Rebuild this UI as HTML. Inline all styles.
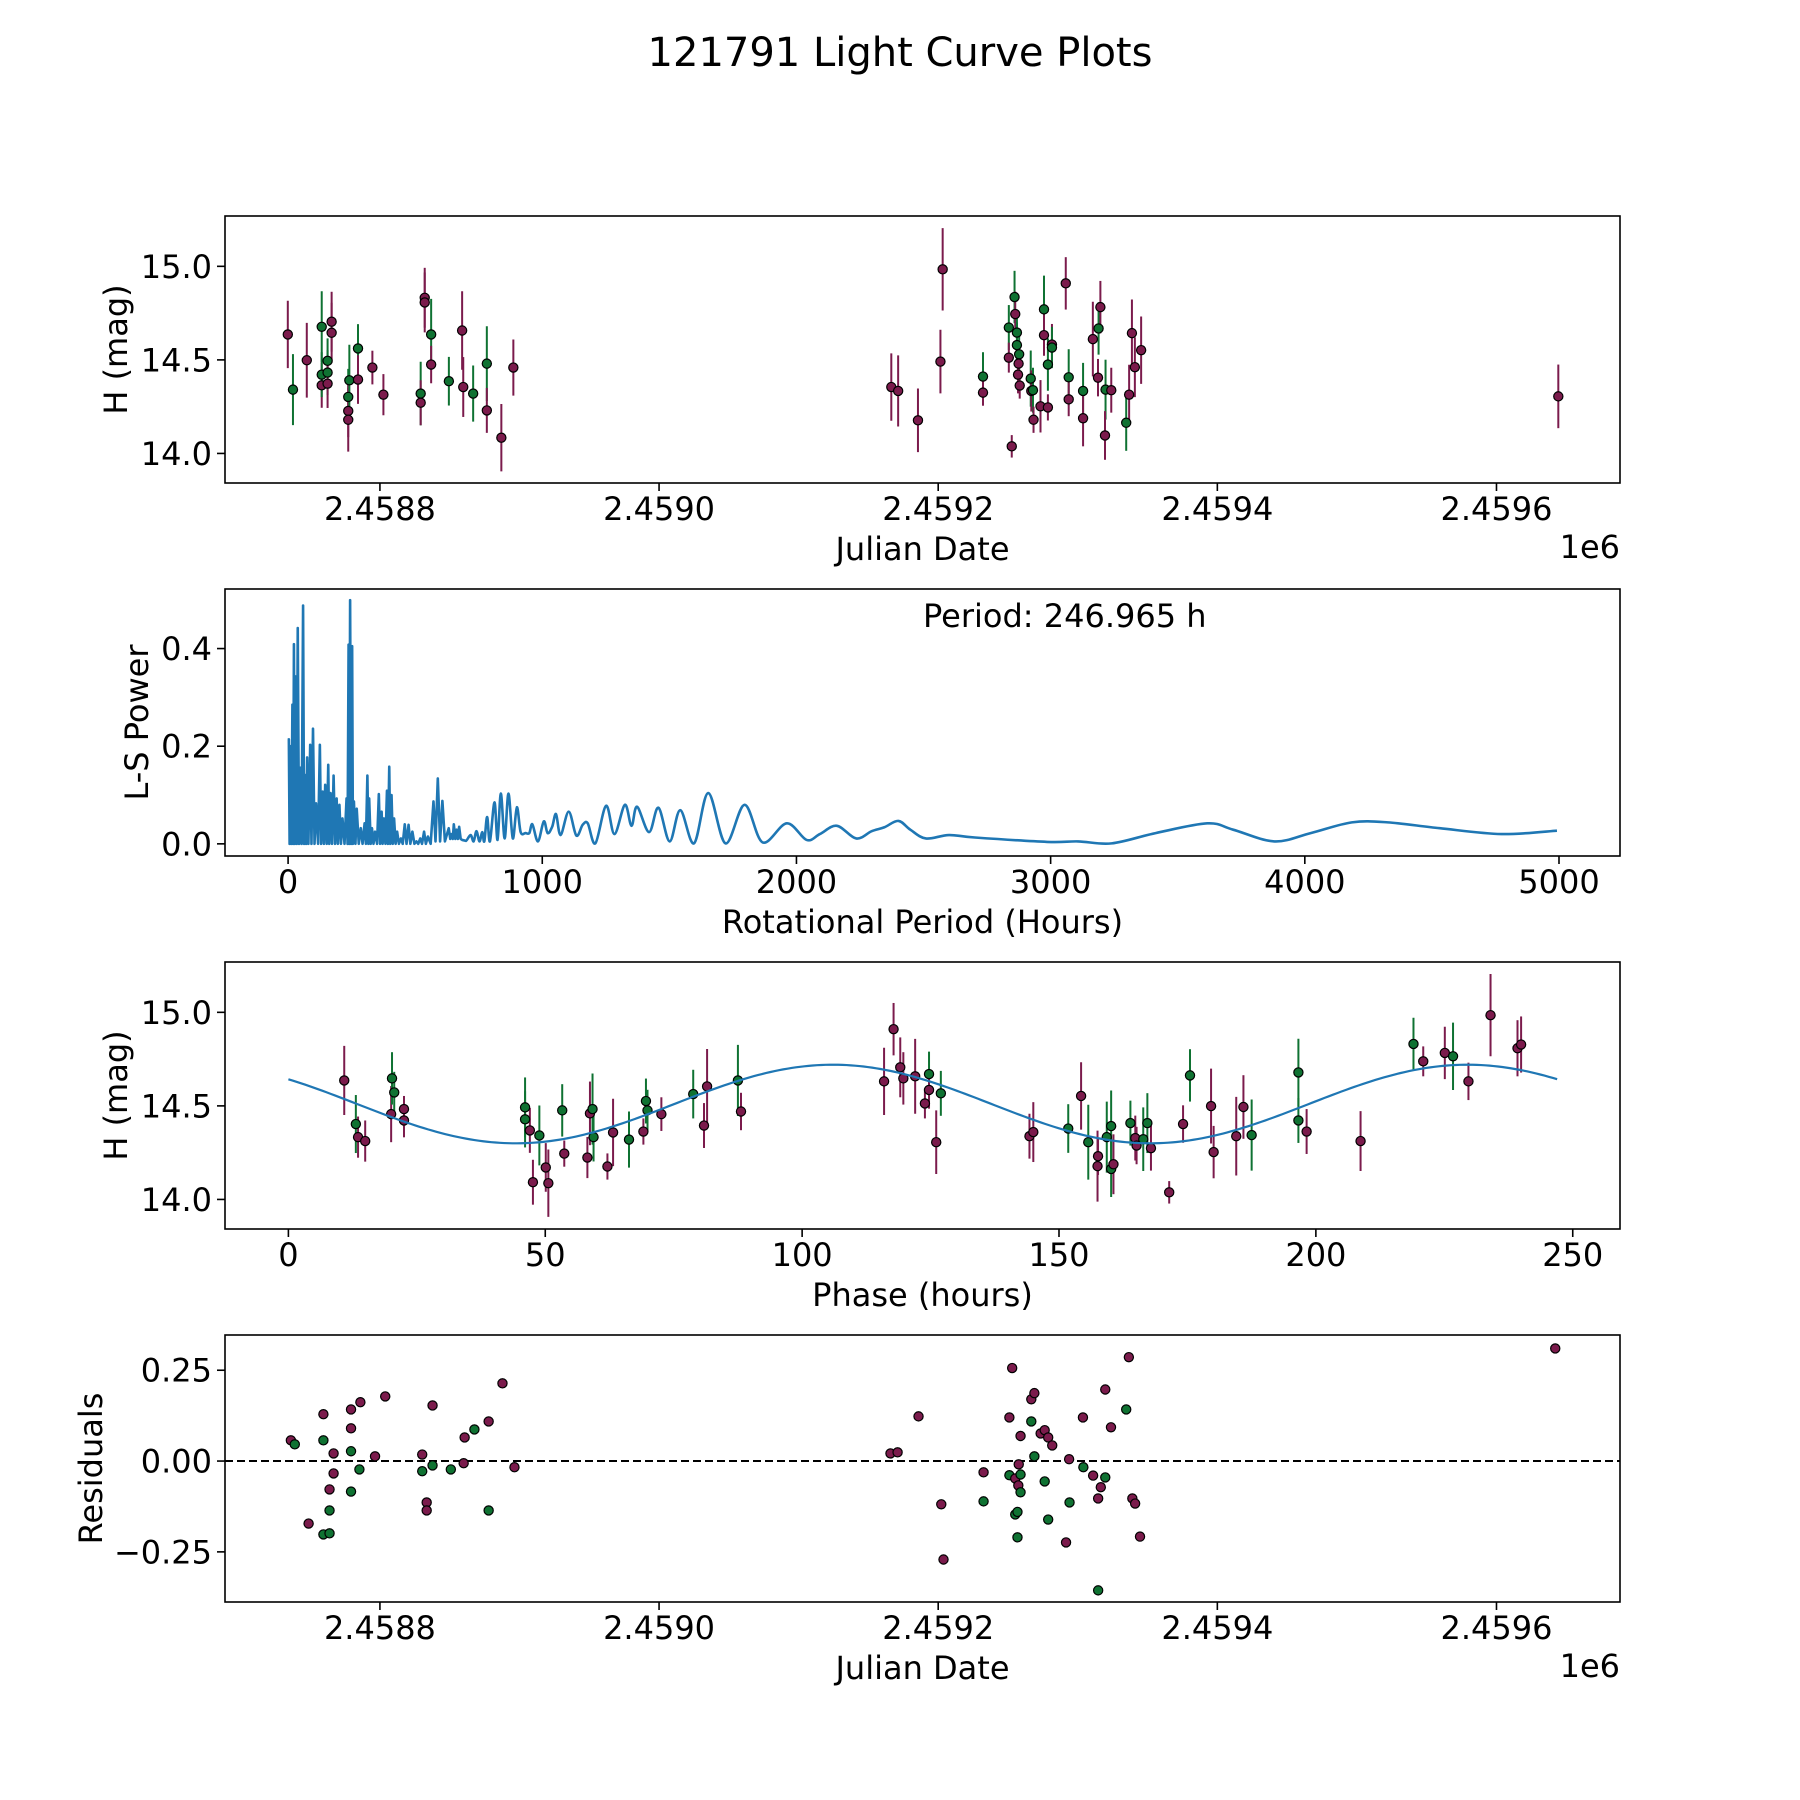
<!DOCTYPE html>
<html><head><meta charset="utf-8"><title>121791 Light Curve Plots</title>
<style>
html,body{margin:0;padding:0;background:#fff;}
svg{display:block;}
text{font-family:"DejaVu Sans","Liberation Sans",sans-serif;fill:#000;}
</style></head>
<body>
<svg id="fig" width="1800" height="1800" viewBox="0 0 1800 1800" xmlns="http://www.w3.org/2000/svg">
<rect x="0" y="0" width="1800" height="1800" fill="#fff"/>
<text x="900" y="66" font-size="40" text-anchor="middle">121791 Light Curve Plots</text>
</svg>
<script>
// ---------- Panel 1: raw light curve (days relative to JD 2458800) ----------
const topDays = [-66.0,-62.3,-52.4,-41.7,-41.7,-41.7,-37.5,-37.5,-37.5,-34.6,-34.6,-22.7,-22.7,-22.7,-21.9,-15.7,-15.7,-5.4,2.5,29.2,29.2,32.1,32.1,36.7,36.7,49.4,58.9,59.7,66.8,76.6,76.6,87.0,95.6,366.4,371.3,385.5,401.6,403.2,432.1,432.1,450.6,450.6,452.7,454.7,455.2,456.4,456.4,458.0,457.6,457.2,458.4,466.3,466.7,467.9,468.3,473.3,475.8,475.8,478.6,478.6,481.5,481.5,491.4,493.5,493.5,503.8,503.8,510.8,514.9,516.2,514.5,519.9,519.5,524.0,534.7,536.8,538.8,540.9,545.4,844.3];
const topMag = [14.636,14.341,14.498,14.677,14.364,14.421,14.495,14.432,14.373,14.704,14.645,14.302,14.227,14.180,14.391,14.561,14.395,14.459,14.314,14.320,14.271,14.832,14.807,14.636,14.475,14.386,14.657,14.355,14.320,14.480,14.230,14.084,14.459,14.355,14.334,14.177,14.491,14.984,14.411,14.325,14.673,14.512,14.038,14.836,14.745,14.646,14.579,14.530,14.480,14.421,14.363,14.400,14.334,14.338,14.180,14.252,14.770,14.632,14.475,14.246,14.582,14.566,14.909,14.407,14.289,14.334,14.188,14.611,14.668,14.782,14.405,14.341,14.096,14.338,14.164,14.314,14.643,14.461,14.552,14.305];
const topErr = [.18,.19,.20,.19,.12,.12,.12,.12,.13,.16,.16,.15,.14,.17,.19,.13,.13,.09,.11,.17,.12,.16,.16,.19,.10,.13,.21,.16,.15,.20,.12,.18,.15,.18,.19,.17,.17,.22,.13,.07,.12,.08,.06,.14,.12,.12,.12,.12,.10,.10,.07,.15,.11,.12,.07,.14,.18,.11,.14,.07,.11,.11,.14,.15,.09,.15,.15,.20,.14,.14,.10,.16,.13,.12,.15,.16,.18,.16,.18,.17];
const topBand = ("mgmgmgggmm"+"mgmmggmmmg"+"mmmgmgmmgg"+"mmmmmmmmgm"+"gmmgmgggmm"+"mgmgmmgmgm"+"mgmgmgmmgm"+"mgmmgmmmmm").split("");
const jdTickLabels = ["2.4588","2.4590","2.4592","2.4594","2.4596"];
const jdTickDays = [0,200,400,600,800];
const magTicks = [14.0,14.5,15.0];
const magTickLabels = ["14.0","14.5","15.0"];

// ---------- Panel 2: Lomb-Scargle periodogram ----------
const lsPeriod = [
0,3,6,10,13,17,20,23,26,30,
34,38,43,48,53,59,63,68,71,75,
80,87,92,98,104,110,118,125,130,136,
141,146,152,158,162,167,173,179,185,191,
196,202,208,214,222,230,234,238,241,244,
248,252,255,259,265,270,278,286,293,301,
306,312,316,319,325,330,336,342,350,357,
362,368,372,377,383,389,393,398,402,407,
412,417,423,429,436,444,451,459,466,474,
481,489,497,505,512,520,527,535,542,550,
561,572,580,589,598,607,617,632,638,643,
648,652,658,663,668,673,679,685,700,718,
730,741,753,764,772,783,794,812,824,837,
852,867,884,900,915,934,949,961,983,1006,
1021,1039,1054,1072,1104,1134,1159,1179,1209,1251,
1284,1325,1351,1373,1420,1457,1501,1543,1597,1653,
1721,1796,1867,1962,2040,2092,2159,2235,2296,2346,
2401,2448,2509,2600,2702,2986,3108,3240,3413,3616,
3718,3880,4023,4185,4327,4531,4774,4992];
const lsPower = [
.213,.214,0,.2,0,.285,0,.409,0,.343,
0,.442,0,.156,0,.488,0,.141,0,.177,
0,.203,0,.236,0,.083,0,.203,0,.107,
0,.121,0,.162,0,.104,0,.140,0,.093,
0,.080,0,.052,0,.093,0,.408,0,.499,
0,.405,0,.087,0,.072,0,.032,0,.042,
0,.140,0,.093,0,.032,0,.025,0,.102,
0,.066,0,.052,0,.109,0,.158,0,.100,
0,.052,0,.025,0,.011,0,.040,0,.039,
0,.025,0,.005,0,.011,0,.025,0,.015,
0,.087,.005,.134,.005,.088,.005,.032,.01,.020,
.01,.040,.01,.029,.01,.035,.01,.008,.006,.018,
.005,.026,.005,.024,.005,.055,.005,.085,.008,.103,
.011,.103,.011,.075,.024,.022,.022,.040,.005,.046,
.022,.035,.061,.018,.066,.017,.039,.042,.001,.078,
.020,.080,.037,.076,.024,.074,.005,.069,.001,.104,
.001,.080,.003,.042,.008,.020,.037,.011,.026,.034,
.047,.029,.011,.018,.013,.004,.005,.001,.022,.042,
.029,.005,.022,.044,.044,.032,.020,.027];
const lsTicks = [0,1000,2000,3000,4000,5000];
const lsTickLabels = ["0","1000","2000","3000","4000","5000"];
const powerTicks = [0.0,0.2,0.4];
const powerTickLabels = ["0.0","0.2","0.4"];

// ---------- Panel 3: phase-folded light curve ----------
const phaseHours = [10.87,13.13,13.56,14.95,20.0,20.17,20.6,22.5,22.5,46.07,46.07,47.0,47.6,48.85,50.1,50.6,53.3,53.7,58.2,58.7,59.2,59.4,62.1,63.2,66.3,69.1,69.6,69.9,72.6,78.8,80.9,81.5,87.5,88.1,115.95,117.8,119.1,119.7,122.0,123.9,124.7,124.7,126.1,127.0,144.25,145.0,151.8,154.3,155.7,157.5,157.6,159.3,160.15,160.15,160.6,163.9,164.85,165.1,166.4,167.2,167.9,171.45,174.15,175.5,179.6,180.1,184.5,185.9,187.5,196.6,196.6,198.2,208.7,219.0,220.9,225.1,226.7,229.7,234.0,239.25,239.95];
const phaseMag = [14.636,14.403,14.333,14.312,14.456,14.647,14.572,14.483,14.422,14.492,14.428,14.369,14.092,14.342,14.171,14.087,14.476,14.245,14.224,14.460,14.483,14.333,14.176,14.358,14.320,14.363,14.526,14.476,14.456,14.563,14.395,14.604,14.636,14.470,14.631,14.910,14.706,14.647,14.658,14.513,14.670,14.585,14.306,14.567,14.338,14.360,14.379,14.553,14.306,14.178,14.231,14.333,14.392,14.163,14.188,14.408,14.328,14.288,14.322,14.408,14.274,14.038,14.403,14.663,14.499,14.253,14.338,14.494,14.344,14.679,14.422,14.363,14.312,14.831,14.738,14.783,14.765,14.631,14.985,14.808,14.828];
const phaseErr = [.185,.155,.11,.11,.15,.14,.11,.07,.09,.16,.15,.12,.12,.16,.13,.18,.14,.07,.11,.17,.19,.13,.07,.18,.15,.07,.12,.11,.09,.13,.12,.2,.19,.1,.18,.14,.16,.14,.2,.08,.12,.1,.17,.12,.12,.16,.13,.18,.2,.19,.1,.19,.19,.15,.16,.12,.12,.1,.17,.16,.12,.06,.1,.14,.2,.14,.21,.17,.19,.18,.12,.12,.16,.14,.08,.14,.18,.1,.22,.15,.15];
const phaseBand = ("mgmmmggmmg"+"gmmgmmgmmm"+"ggmmgmggmg"+"mmgmmmmmmm"+"gmmgmmgmgm"+"mgggmgmmgg"+"mmmgmmmmgg"+"gmmgmmgmmm"+"m").split("");
// fitted sinusoid: [mean mag, amplitude, time of maximum (h), harmonic period (h), fold period (h)]
const fitParams = [14.51, 0.21, 106, 123.5, 246.965];
const phaseTicks = [0,50,100,150,200,250];
const phaseTickLabels = ["0","50","100","150","200","250"];

// ---------- Panel 4: residuals ----------
const resDays = [-63.8,-61.0,-51.1,-40.5,-40.5,-40.5,-36.1,-36.1,-36.1,-33.2,-33.2,-20.7,-20.7,-20.7,-20.7,-14.7,-14.0,-3.5,3.8,30.3,30.3,33.5,33.5,37.7,37.7,50.8,60.0,60.7,67.7,77.9,77.9,87.8,96.4,365.8,370.9,385.9,402.2,403.8,432.5,432.5,451.0,451.0,453.0,455.2,455.2,456.8,456.8,457.7,457.4,459.0,459.0,459.0,466.7,466.7,468.9,468.9,473.4,476.3,476.3,478.8,478.8,481.7,491.6,493.8,494.1,503.7,504.0,511.0,514.6,514.6,516.5,519.7,519.7,523.8,534.7,536.6,539.1,541.1,544.6,842.1];
const resValue = [0.057,0.046,-0.172,0.129,0.057,-0.202,-0.078,-0.136,-0.199,0.021,-0.034,0.142,0.090,0.027,-0.084,-0.023,0.162,0.013,0.178,0.018,-0.028,-0.114,-0.136,0.153,-0.012,-0.023,-0.006,0.065,0.087,0.109,-0.136,0.214,-0.017,0.021,0.024,0.123,-0.119,-0.271,-0.031,-0.111,0.120,-0.039,0.256,-0.048,-0.147,-0.140,-0.210,-0.009,-0.067,0.069,-0.037,-0.086,0.170,0.109,0.187,0.013,0.076,0.085,-0.056,0.065,-0.161,0.043,-0.224,0.005,-0.114,0.120,-0.017,-0.040,-0.103,-0.356,-0.072,0.197,-0.045,0.093,0.142,0.286,-0.103,-0.117,-0.208,0.310];
const resBand = ("mgmmggmggm"+"mmmgggmmmm"+"gmmmggmmgm"+"gmmmmm"+"mmmgmgmmgg"+"gmmmggmgmg"+"mmgmgmmmgm"+"gmmgmmgmgm"+"mmmm").split("");
const resTicks = [-0.25,0.0,0.25];
const resTickLabels = ["\u22120.25","0.00","0.25"];

// ---------- rendering ----------
const NS = "http://www.w3.org/2000/svg";
const svg = document.getElementById("fig");
const COL = {m:"#7b1b4c", g:"#0f7232"};
const L = 225, R = 1620;
function el(tag, attrs, parent){ const e=document.createElementNS(NS,tag); for(const k in attrs) e.setAttribute(k,attrs[k]); (parent||svg).appendChild(e); return e; }
function lin(d0,d1,r0,r1){ return v => r0 + (v-d0)*(r1-r0)/(d1-d0); }

function axesFrame(name){
  const g = el("g",{});
  
  
  return g;
}
function border(g, top, bot){
  const r = el("rect",{x:L,y:top,width:R-L,height:bot-top,fill:"none",stroke:"#000","stroke-width":1.6},g);
  
  
}
function xTicks(g, vals, labels, sx, bot){
  vals.forEach((v,i)=>{
    const x = sx(v);
    const t = el("line",{x1:x,x2:x,y1:bot,y2:bot+8,stroke:"#000","stroke-width":1.6},g);
    
    
    const tx = el("text",{x:x,y:bot+37,"font-size":32,"text-anchor":"middle"},g);
    tx.textContent = labels[i];
    
    
  });
}
function yTicks(g, vals, labels, sy){
  vals.forEach((v,i)=>{
    const y = sy(v);
    const t = el("line",{x1:L-8,x2:L,y1:y,y2:y,stroke:"#000","stroke-width":1.6},g);
    
    
    const tx = el("text",{x:L-13,y:y+11.5,"font-size":32,"text-anchor":"end"},g);
    tx.textContent = labels[i];
    
    
  });
}
function xLabel(g, txt, bot){
  const t = el("text",{x:(L+R)/2,y:bot+77,"font-size":32,"text-anchor":"middle"},g);
  t.textContent = txt;
  
  
}
function yLabel(g, txt, top, bot, x){
  const cy=(top+bot)/2;
  const t = el("text",{x:x,y:cy,"font-size":32,"text-anchor":"middle",transform:`rotate(-90 ${x} ${cy})`},g);
  t.textContent = txt;
  
  
}
function offsetText(g, bot){
  const t = el("text",{x:R,y:bot+75,"font-size":32,"text-anchor":"end"},g);
  t.textContent = "1e6";
  
  
}
function errPoints(g, xs, ys, errs, bands, sx, sy, unitPx){
  xs.forEach((v,i)=>{
    const x=sx(v), y=sy(ys[i]);
    if(errs){
      const e = el("line",{x1:x,x2:x,y1:y-errs[i]*unitPx,y2:y+errs[i]*unitPx,stroke:COL[bands[i]]||COL.m,"stroke-width":2},g);
      
      
    }
  });
  xs.forEach((v,i)=>{
    const c = el("ellipse",{cx:sx(v),cy:sy(ys[i]),rx:4.6,ry:4.6,fill:COL[bands[i]]||COL.m,stroke:"#000","stroke-width":1.2},g);
    
    
  });
}

// Panel 1
(function(){
  const top=216, bot=483;
  const g = axesFrame("raw-light-curve-panel");
  const sx = lin(-111, 888.5, L, R), sy = lin(13.842, 15.269, bot, top);
  const clip = el("clipPath",{id:"c1"},g); el("rect",{x:L,y:top,width:R-L,height:bot-top},clip);
  const pg = el("g",{"clip-path":"url(#c1)"},g);
  errPoints(pg, topDays, topMag, topErr, topBand, sx, sy, sy(14)-sy(15));
  border(g, top, bot);
  xTicks(g, jdTickDays, jdTickLabels, sx, bot);
  yTicks(g, magTicks, magTickLabels, sy);
  xLabel(g, "Julian Date", bot);
  yLabel(g, "H (mag)", top, bot, 127);
  offsetText(g, bot);
})();

// Panel 2
(function(){
  const top=589, bot=856;
  const g = axesFrame("periodogram-panel");
  const sx = lin(-248.2, 5240, L, R), sy = lin(-0.0249, 0.522, bot, top);
  const pts = lsPeriod.map((p,i)=>[sx(p), sy(lsPower[i])]);
  let d = "M" + pts[0][0].toFixed(2) + "," + pts[0][1].toFixed(2);
  for(let i=1;i<pts.length;i++){
    if(lsPeriod[i] <= 700){
      d += "L" + pts[i][0].toFixed(2) + "," + pts[i][1].toFixed(2);
    } else {
      const p0 = pts[i-2]||pts[i-1], p1 = pts[i-1], p2 = pts[i], p3 = pts[i+1]||pts[i];
      const c1x = p1[0] + (p2[0]-p0[0])/6, c1y = p1[1] + (p2[1]-p0[1])/6;
      const c2x = p2[0] - (p3[0]-p1[0])/6, c2y = p2[1] - (p3[1]-p1[1])/6;
      d += "C" + c1x.toFixed(2)+","+c1y.toFixed(2)+" "+c2x.toFixed(2)+","+c2y.toFixed(2)+" "+p2[0].toFixed(2)+","+p2[1].toFixed(2);
    }
  }
  const path = el("path",{d:d,fill:"none",stroke:"#1f77b4","stroke-width":2.6,"stroke-linejoin":"round"},g);
  
  
  border(g, top, bot);
  xTicks(g, lsTicks, lsTickLabels, sx, bot);
  yTicks(g, powerTicks, powerTickLabels, sy);
  xLabel(g, "Rotational Period (Hours)", bot);
  yLabel(g, "L-S Power", top, bot, 148);
  const t = el("text",{x:923,y:627,"font-size":32},g);
  t.textContent = "Period: 246.965 h";
  
  
})();

// Panel 3
(function(){
  const top=962, bot=1229;
  const g = axesFrame("phase-folded-panel");
  const sx = lin(-12.34, 259.2, L, R), sy = lin(13.842, 15.269, bot, top);
  let d = "";
  for(let i=0;i<=300;i++){
    const p = fitParams[4]*i/300;
    const m = fitParams[0] + fitParams[1]*Math.cos(2*Math.PI*(p-fitParams[2])/fitParams[3]);
    d += (i?"L":"M") + sx(p).toFixed(2) + "," + sy(m).toFixed(2);
  }
  const clip = el("clipPath",{id:"c3"},g); el("rect",{x:L,y:top,width:R-L,height:bot-top},clip);
  const pg = el("g",{"clip-path":"url(#c3)"},g);
  errPoints(pg, phaseHours, phaseMag, phaseErr, phaseBand, sx, sy, sy(14)-sy(15));
  const path = el("path",{d:d,fill:"none",stroke:"#1f77b4","stroke-width":2.2},pg);
  
  
  border(g, top, bot);
  xTicks(g, phaseTicks, phaseTickLabels, sx, bot);
  yTicks(g, magTicks, magTickLabels, sy);
  xLabel(g, "Phase (hours)", bot);
  yLabel(g, "H (mag)", top, bot, 127);
})();

// Panel 4
(function(){
  const top=1335, bot=1602;
  const g = axesFrame("residuals-panel");
  const sx = lin(-111, 888.5, L, R), sy = lin(-0.388, 0.347, bot, top);
  const z = el("line",{x1:L,x2:R,y1:sy(0),y2:sy(0),stroke:"#000","stroke-width":2,"stroke-dasharray":"8,4"},g);
  
  
  errPoints(g, resDays, resValue, null, resBand, sx, sy, 1);
  border(g, top, bot);
  xTicks(g, jdTickDays, jdTickLabels, sx, bot);
  yTicks(g, resTicks, resTickLabels, sy);
  xLabel(g, "Julian Date", bot);
  yLabel(g, "Residuals", top, bot, 102);
  offsetText(g, bot);
})();
</script>
</body></html>
